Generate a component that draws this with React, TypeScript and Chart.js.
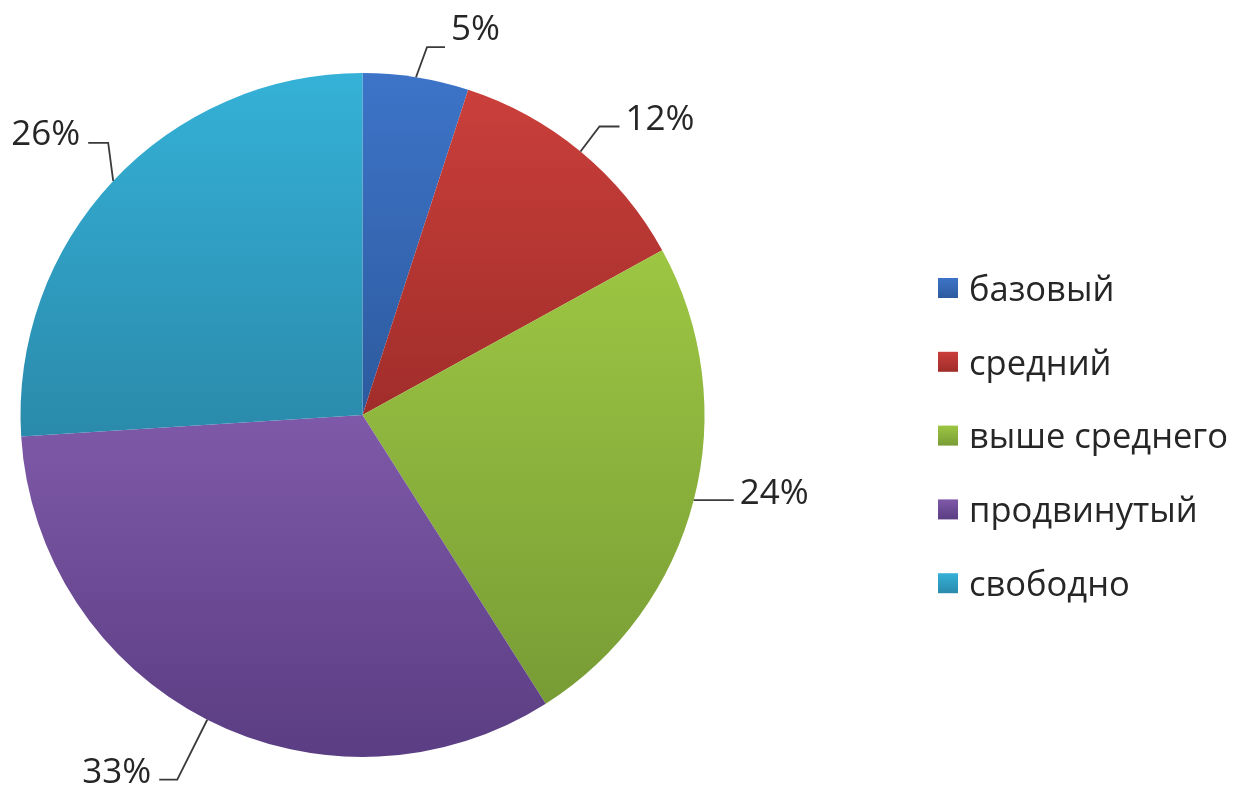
import React, { useEffect, useRef } from "react";
import { Chart, registerables } from "chart.js";

Chart.register(...registerables);

const categories = ["базовый", "средний", "выше среднего", "продвинутый", "свободно"];
const shares = [5, 12, 24, 33, 26];

// style constants (not data)
const topColors = ["#3D74C8", "#CA3F3B", "#9DC643", "#7F59A9", "#35B1D7"];
const bottomColors = ["#2D5A9E", "#A02D2A", "#789C35", "#5A3D82", "#2A8AAB"];
// leader elbow offset from the slice edge (dx, dy), horizontal tail length, text baseline shift
const leaderDx = [11, 19, 0, -30, -5];
const leaderDy = [-30, -25, 0, 60, -38];
const leaderHoriz = [18, 20, 40, 18, 20];
const labelDy = [-7, 4, 4, 3, 2];

const FONT = '"Open Sans", "Noto Sans", sans-serif';
const TEXT_COLOR = "#262626";

function arcYRange(cx: number, cy: number, r: number, a0: number, a1: number) {
  let ymin = cy, ymax = cy;
  const steps = 60;
  for (let i = 0; i <= steps; i++) {
    const a = a0 + ((a1 - a0) * i) / steps;
    const y = cy + r * Math.sin(a);
    if (y < ymin) ymin = y;
    if (y > ymax) ymax = y;
  }
  return [ymin, ymax];
}

const piePlugin = {
  id: "pieExtras",
  beforeDatasetsDraw(chart: any) {
    const ctx = chart.ctx;
    const meta = chart.getDatasetMeta(0);
    meta.data.forEach((arc: any, i: number) => {
      const [y0, y1] = arcYRange(arc.x, arc.y, arc.outerRadius, arc.startAngle, arc.endAngle);
      const g = ctx.createLinearGradient(0, y0, 0, y1);
      g.addColorStop(0, topColors[i]);
      g.addColorStop(1, bottomColors[i]);
      arc.options.backgroundColor = g;
    });
  },
  afterDraw(chart: any) {
    const ctx = chart.ctx;
    const meta = chart.getDatasetMeta(0);
    const total = shares.reduce((a, b) => a + b, 0);
    ctx.save();
    ctx.font = `35px ${FONT}`;
    ctx.fillStyle = TEXT_COLOR;
    ctx.strokeStyle = "#3a3a3a";
    ctx.lineWidth = 1.8;
    meta.data.forEach((arc: any, i: number) => {
      const mid = (arc.startAngle + arc.endAngle) / 2;
      const r = arc.outerRadius;
      const ex = arc.x + r * Math.cos(mid);
      const ey = arc.y + r * Math.sin(mid);
      const bx = ex + leaderDx[i];
      const by = ey + leaderDy[i];
      const right = Math.cos(mid) >= 0;
      const hx = bx + (right ? leaderHoriz[i] : -leaderHoriz[i]);
      ctx.beginPath();
      ctx.moveTo(ex, ey);
      ctx.lineTo(bx, by);
      ctx.lineTo(hx, by);
      ctx.stroke();
      const pct = Math.round((shares[i] / total) * 100) + "%";
      ctx.textBaseline = "alphabetic";
      ctx.textAlign = right ? "left" : "right";
      ctx.fillText(pct, hx + (right ? 6 : -8), by + labelDy[i]);
    });
    // legend
    ctx.font = `34.5px ${FONT}`;
    ctx.textAlign = "left";
    ctx.textBaseline = "middle";
    const lx = 938;
    const ly0 = 288;
    const step = 73.8;
    categories.forEach((c, i) => {
      const y = ly0 + i * step;
      const g = ctx.createLinearGradient(0, y - 10, 0, y + 10);
      g.addColorStop(0, topColors[i]);
      g.addColorStop(1, bottomColors[i]);
      ctx.fillStyle = g;
      ctx.fillRect(lx, y - 10, 20, 20);
      ctx.fillStyle = TEXT_COLOR;
      ctx.fillText(c, lx + 31, y + 3);
    });
    ctx.restore();
  },
};

export default function App() {
  const ref = useRef<HTMLCanvasElement | null>(null);
  useEffect(() => {
    document.body.style.margin = "0";
    document.body.style.background = "#ffffff";
    if (!ref.current) return;
    const chart = new Chart(ref.current, {
      type: "pie",
      data: {
        labels: categories,
        datasets: [
          {
            data: shares,
            backgroundColor: topColors,
            borderWidth: 0,
          },
        ],
      },
      options: {
        responsive: false,
        animation: false,
        layout: { padding: { top: 73, bottom: 35, left: 20, right: 544 } },
        plugins: {
          legend: { display: false },
          tooltip: { enabled: false },
        },
      },
      plugins: [piePlugin],
    });
    return () => chart.destroy();
  }, []);
  return (
    <div style={{ position: "absolute", left: 0, top: 0, width: 1249, height: 792, background: "#fff" }}>
      <canvas ref={ref} width={1249} height={792} />
    </div>
  );
}
